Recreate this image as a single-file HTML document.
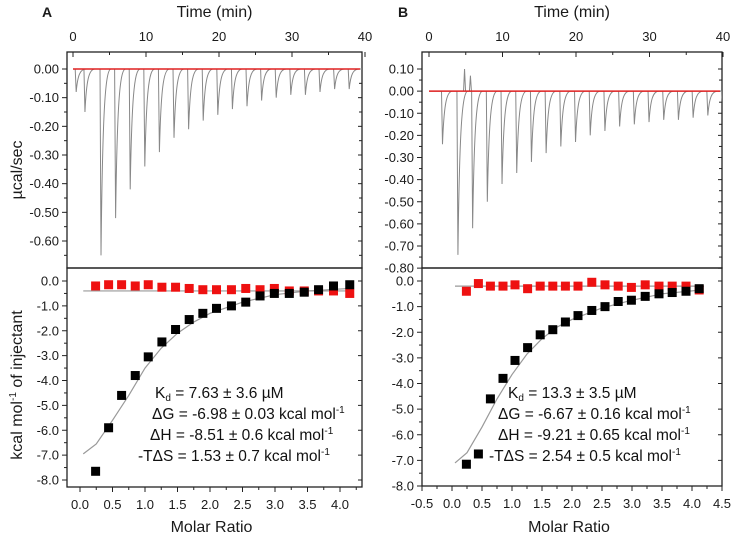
<!DOCTYPE html>
<html><head><meta charset="utf-8"><style>
body{margin:0;background:#fff;width:737px;height:536px;overflow:hidden}
svg{font-family:"Liberation Sans",Arial,sans-serif}
</style></head><body>
<svg id="fig" width="737" height="536" viewBox="0 0 737 536"></svg>
<script>
// ---- Data ----
const ratioX = [0.24,0.44,0.64,0.85,1.05,1.26,1.47,1.68,1.89,2.1,2.33,2.55,2.77,2.99,3.22,3.45,3.67,3.9,4.15];
const ratioXB = [0.24,0.44,0.64,0.85,1.05,1.26,1.47,1.68,1.89,2.1,2.33,2.55,2.77,2.99,3.22,3.45,3.67,3.9,4.12];
const blackA = [-7.65,-5.9,-4.6,-3.8,-3.05,-2.45,-1.95,-1.55,-1.3,-1.1,-1.0,-0.85,-0.6,-0.5,-0.5,-0.45,-0.35,-0.2,-0.15];
const redA = [-0.2,-0.15,-0.15,-0.2,-0.15,-0.25,-0.25,-0.3,-0.35,-0.35,-0.35,-0.3,-0.35,-0.3,-0.4,-0.4,-0.4,-0.4,-0.5];
const blackB = [-7.15,-6.75,-4.6,-3.8,-3.1,-2.6,-2.1,-1.9,-1.6,-1.35,-1.15,-1.0,-0.8,-0.75,-0.6,-0.5,-0.45,-0.4,-0.3];
const redB = [-0.4,-0.1,-0.2,-0.2,-0.15,-0.3,-0.2,-0.2,-0.2,-0.2,-0.05,-0.15,-0.2,-0.25,-0.15,-0.2,-0.2,-0.2,-0.35];
const fitX = [0.05,0.25,0.5,0.75,1.0,1.25,1.5,1.75,2.0,2.5,3.0,3.5,4.15];
const fitA = [-6.95,-6.55,-5.6,-4.6,-3.5,-2.7,-2.1,-1.65,-1.3,-0.85,-0.55,-0.4,-0.3];
const fitB = [-7.1,-6.7,-5.7,-4.6,-3.65,-2.85,-2.25,-1.8,-1.5,-1.05,-0.75,-0.5,-0.35];
const peakTA = [0.3,1.5,3.7,5.7,7.7,9.7,11.7,13.7,15.7,17.7,19.7,21.7,23.7,25.7,27.7,29.7,31.7,33.7,35.7,37.7,39.7];
const peakVA = [-0.08,-0.15,-0.65,-0.52,-0.42,-0.34,-0.29,-0.24,-0.21,-0.18,-0.16,-0.14,-0.13,-0.11,-0.10,-0.09,-0.09,-0.08,-0.07,-0.07,-0.06];
const peakTB = [1.7,3.8,5.8,7.8,9.8,11.8,13.8,15.8,17.8,19.8,21.8,23.8,25.8,27.8,29.8,31.8,33.8,35.8,37.8,39.8];
const peakVB = [-0.24,-0.74,-0.62,-0.50,-0.42,-0.37,-0.32,-0.28,-0.25,-0.23,-0.20,-0.18,-0.16,-0.15,-0.14,-0.13,-0.13,-0.12,-0.11,-0.06];
const timeTicks = [0,10,20,30,40];
const yTopA = [0,-0.1,-0.2,-0.3,-0.4,-0.5,-0.6];
const yTopB = [0.1,0,-0.1,-0.2,-0.3,-0.4,-0.5,-0.6,-0.7,-0.8];
const yBot = [0,-1,-2,-3,-4,-5,-6,-7,-8];
const xBotA = [0,0.5,1,1.5,2,2.5,3,3.5,4];
const xBotB = [-0.5,0,0.5,1,1.5,2,2.5,3,3.5,4,4.5];

const NS="http://www.w3.org/2000/svg";
const svg=document.getElementById('fig');
function el(tag,attrs,parent,name){const e=document.createElementNS(NS,tag);for(const k in attrs)e.setAttribute(k,attrs[k]);


(parent||svg).appendChild(e);return e;}
function txt(x,y,s,opts,name,parent){const t=el('text',Object.assign({x:x,y:y,'font-size':13,fill:'#1a1a1a'},opts||{}),parent,name);t.textContent=s;return t;}
function lin(d0,d1,r0,r1){return v=>r0+(v-d0)*(r1-r0)/(d1-d0);}
const defs=el('defs',{},svg,'defs');

function panel(cfg){
  const g=el('g',{},svg,cfg.id);
  const tx=lin(0,40,cfg.t0,cfg.t40), ty=lin(cfg.tyA,cfg.tyB,cfg.tyApx,cfg.tyBpx);
  const L=cfg.left,R=cfg.right,T=52,M=268,B=cfg.bottom;
  const cp=el('clipPath',{id:'clip-'+cfg.id},defs,'clip');
  el('rect',{x:L,y:T,width:R-L,height:M-T},cp,'clip-rect');
  el('rect',{x:L,y:T,width:R-L,height:M-T,fill:'none',stroke:'#222','stroke-width':1.3},g,'thermogram-frame');
  el('rect',{x:L,y:M,width:R-L,height:B-M,fill:'none',stroke:'#222','stroke-width':1.3},g,'isotherm-frame');
  txt((L+R)/2,17,'Time (min)',{'font-size':16,'text-anchor':'middle'},'time-axis-title',g);
  txt(cfg.labelX,17,cfg.label,{'font-size':14,'font-weight':'bold'},'panel-label',g);
  timeTicks.forEach(t=>{const x=tx(t);el('line',{x1:x,y1:T,x2:x,y2:T+5,stroke:'#222'},g,'time-tick');
    txt(x,41,String(t),{'text-anchor':'middle'},'time-tick-label',g);});
  for(let t=5;t<40;t+=10){const x=tx(t);el('line',{x1:x,y1:T,x2:x,y2:T+3,stroke:'#222'},g,'time-minor-tick');}
  cfg.yTop.forEach(v=>{const y=ty(v);el('line',{x1:L-5,y1:y,x2:L,y2:y,stroke:'#222'},g,'y-tick');
    el('line',{x1:R-4,y1:y,x2:R,y2:y,stroke:'#222'},g,'y-tick-right');
    txt(L-8,y+4.5,v.toFixed(2),{'text-anchor':'end'},'y-tick-label',g);
    const ym=ty(v-0.05);if(ym<M-2){el('line',{x1:L-3,y1:ym,x2:L,y2:ym,stroke:'#222'},g,'y-minor-tick');el('line',{x1:R-3,y1:ym,x2:R,y2:ym,stroke:'#222'},g,'y-minor-tick-right');}});
  const y0=ty(0);let d='M'+tx(0)+','+y0;
  cfg.pT.forEach((t,i)=>{const p=cfg.pV[i];
    d+=' L'+tx(t)+','+y0+' L'+(tx(t)+1)+','+ty(p)+' C'+(tx(t)+2.5)+','+ty(p*0.25)+' '+(tx(t)+5)+','+y0+' '+(tx(t)+11)+','+y0;});
  if(cfg.pos) cfg.pos.forEach(p=>{d+=' M'+tx(p[0])+','+y0+' L'+(tx(p[0])+1)+','+ty(p[1])+' L'+(tx(p[0])+2)+','+y0;});
  el('path',{d:d,fill:'none',stroke:'#888','stroke-width':1,'clip-path':'url(#clip-'+cfg.id+')'},g,'thermogram-trace');
  el('line',{x1:tx(0),y1:y0,x2:R-2,y2:y0,stroke:'#e02020','stroke-width':1.5},g,'baseline');
  const bx=lin(0,4,cfg.bx0,cfg.bx4), by=lin(0,-8,281,cfg.by8);
  yBot.forEach(v=>{const y=by(v);el('line',{x1:L-5,y1:y,x2:L,y2:y,stroke:'#222'},g,'y-tick');
    el('line',{x1:R-4,y1:y,x2:R,y2:y,stroke:'#222'},g,'y-tick-right');
    txt(L-8,y+4.5,v.toFixed(1),{'text-anchor':'end'},'y-tick-label',g);
    const ym=by(v-0.5);if(ym<B-2){el('line',{x1:L-3,y1:ym,x2:L,y2:ym,stroke:'#222'},g,'y-minor-tick');}});
  cfg.xBot.forEach(v=>{const x=bx(v);el('line',{x1:x,y1:B,x2:x,y2:B+5,stroke:'#222'},g,'x-tick');
    txt(x,B+22,v.toFixed(1),{'text-anchor':'middle'},'x-tick-label',g);
    const xm=bx(v+0.25);if(xm<R-2)el('line',{x1:xm,y1:B,x2:xm,y2:B+3,stroke:'#222'},g,'x-minor-tick');});
  txt((L+R)/2-3,532,'Molar Ratio',{'font-size':16,'text-anchor':'middle'},'x-axis-title',g);
  el('line',{x1:bx(0.05),y1:by(cfg.redLine),x2:bx(4.2),y2:by(cfg.redLine),stroke:'#999','stroke-width':1.2},g,'control-fit-line');
  el('path',{d:fitX.map((x,i)=>(i?'L':'M')+bx(x)+','+by(cfg.fit[i])).join(' '),fill:'none',stroke:'#999','stroke-width':1.2},g,'binding-fit-curve');
  cfg.red.forEach((v,i)=>el('rect',{x:bx(cfg.rx[i])-4.5,y:by(v)-4.5,width:9,height:9,fill:'#ee1111'},g,'control-point'));
  cfg.black.forEach((v,i)=>el('rect',{x:bx(cfg.rx[i])-4.5,y:by(v)-4.5,width:9,height:9,fill:'#000'},g,'binding-point'));
  const ft={'font-size':15.5,fill:'#111'};
  const k=txt(cfg.ax[0],398,'K',ft,'kd-annotation',g);
  const sub=document.createElementNS(NS,'tspan');sub.setAttribute('font-size','10');sub.setAttribute('dy','3');sub.textContent='d';k.appendChild(sub);
  const r=document.createElementNS(NS,'tspan');r.setAttribute('dy','-3');r.textContent=' =  '+cfg.kd;k.appendChild(r);
  const lines=[['ΔG = '+cfg.dg,cfg.ax[1],419,'dg-annotation'],['ΔH = '+cfg.dh,cfg.ax[2],440,'dh-annotation'],['-TΔS =  '+cfg.ts,cfg.ax[3],461,'tds-annotation']];
  lines.forEach(l=>{const t=txt(l[1],l[2],l[0]+' kcal mol',ft,l[3],g);const s=document.createElementNS(NS,'tspan');s.setAttribute('font-size','10');s.setAttribute('dy','-6');s.textContent='-1';t.appendChild(s);});
}
panel({id:'panel-a',label:'A',labelX:42,left:67,right:362,bottom:487,t0:73,t40:365,tyA:0,tyB:-0.6,tyApx:69,tyBpx:241,
  yTop:yTopA,pT:peakTA,pV:peakVA,bx0:80,bx4:340,by8:480,xBot:xBotA,rx:ratioX,black:blackA,red:redA,fit:fitA,redLine:-0.4,
  ax:[155,152,150,138],kd:'7.63 ± 3.6 µM',dg:'-6.98 ± 0.03',dh:'-8.51 ± 0.6',ts:'1.53 ± 0.7'});
panel({id:'panel-b',label:'B',labelX:398,left:422,right:722,bottom:486,t0:429,t40:723,tyA:0.1,tyB:-0.7,tyApx:69,tyBpx:246,
  yTop:yTopB,pT:peakTB,pV:peakVB,pos:[[4.7,0.10],[5.5,0.07]],bx0:452,bx4:692,by8:486,xBot:xBotB,rx:ratioXB,black:blackB,red:redB,fit:fitB,redLine:-0.2,
  ax:[508,498,498,489],kd:'13.3 ± 3.5 µM',dg:'-6.67 ± 0.16',dh:'-9.21 ± 0.65',ts:'2.54 ± 0.5'});
const y1=txt(0,0,'µcal/sec',{'font-size':16,'text-anchor':'middle',transform:'translate(22,170) rotate(-90)'},'y-axis-title-top');
const y2=txt(0,0,'kcal mol',{'font-size':16,'text-anchor':'middle',transform:'translate(22,385) rotate(-90)'},'y-axis-title-bottom');
const s1=document.createElementNS(NS,'tspan');s1.setAttribute('font-size','10');s1.setAttribute('dy','-6');s1.textContent='-1';y2.appendChild(s1);
const s2=document.createElementNS(NS,'tspan');s2.setAttribute('dy','6');s2.textContent=' of injectant';y2.appendChild(s2);
</script>
</body></html>
